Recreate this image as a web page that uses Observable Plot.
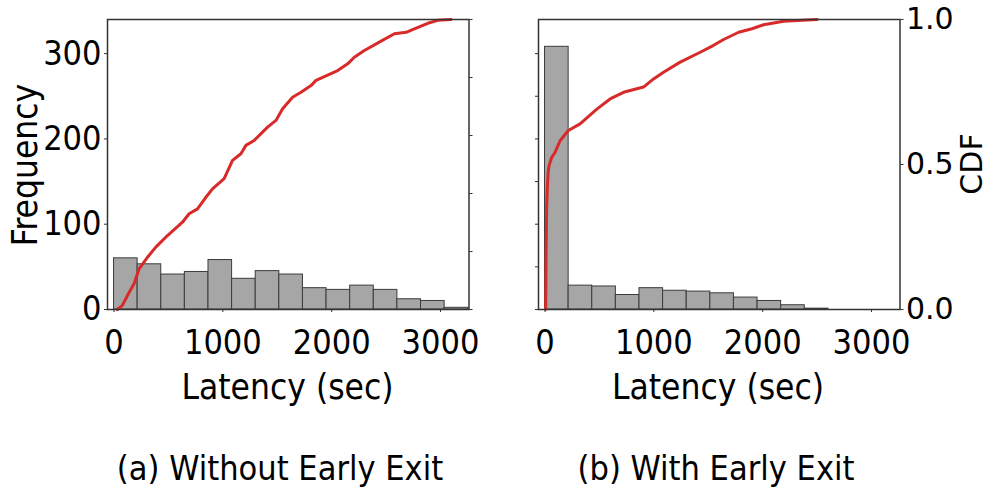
<!DOCTYPE html>
<html><head><meta charset="utf-8">
<script src="https://cdn.jsdelivr.net/npm/d3@7"></script>
<script src="https://cdn.jsdelivr.net/npm/@observablehq/plot@0.6"></script>
<style>
body{margin:0;background:#fff;}
#wrap{position:relative;width:997px;height:496px;overflow:hidden;background:#fff;}
.abs{position:absolute;top:0;}
.lbl{position:absolute;white-space:nowrap;color:#000;line-height:1;font-family:"DejaVu Sans Condensed","DejaVu Sans",sans-serif;font-stretch:condensed;font-size:35px;}
</style></head><body><div id="wrap"></div>
<script>
// ---- data ----
const binStarts = [0,217,434,651,868,1085,1302,1519,1736,1953,2170,2387,2604,2821,3038];
const binEnds   = [217,434,651,868,1085,1302,1519,1736,1953,2170,2387,2604,2821,3038,3255];
const freqWithout = [60,53,41,44,58,36,45,41,25,23,28,23,12,10,2];
const freqWith    = [308,28,27,17,25,22,21,19,14,10,5,1,0,0,0];

const cdfWithoutLatency = [31,77,123,184,230,307,384,491,629,690,767,844,905,1012,1089,1166,1212,1288,1411,1488,1549,1641,1718,1810,1856,2055,2147,2208,2300,2438,2576,2684,2760,2883,2975,3098];
const cdfWithoutValue   = [0,0.014,0.048,0.089,0.140,0.180,0.215,0.255,0.301,0.330,0.347,0.387,0.416,0.451,0.514,0.537,0.566,0.583,0.629,0.652,0.692,0.732,0.749,0.772,0.790,0.824,0.847,0.870,0.893,0.922,0.951,0.956,0.968,0.987,0.997,1.0];

const cdfWithLatency = [6,10,15,21,30,40,62,92,138,214,322,476,598,721,905,997,1089,1242,1426,1549,1641,1779,1902,2009,2193,2500];
const cdfWithValue   = [0,0.20,0.352,0.42,0.479,0.50,0.525,0.542,0.582,0.617,0.640,0.691,0.726,0.749,0.767,0.795,0.818,0.853,0.887,0.911,0.931,0.956,0.968,0.982,0.994,1.0];

const xTicks = [0,1000,2000,3000];
const freqTicksLeft = [0,100,200,300];
const freqTicksRight = [0,50,100,150,200,250,300];
const cdfTicksLeft = [0,0.2,0.4,0.6,0.8,1.0];
const cdfTicksRight = [0,0.5,1.0];
const captions = ["(a) Without Early Exit","(b) With Early Exit"];

// ---- layout ----
const X_DOMAIN = [-60, 3262];
const Y_MAX = 340;
const H = 369, MT = 19, MB = 60;
const condensed = "'DejaVu Sans Condensed','DejaVu Sans',sans-serif";
const wrap = document.getElementById("wrap");

function panel({svgLeft, mL, mR, freq, cLat, cVal, fTicks, fLabels, cTicks, cLabels}) {
  const W = mL + 361.5 + mR;
  const bins = binStarts.map((s,i)=>({x1:s, x2:binEnds[i], f:freq[i]}));
  const cdf = cLat.map((l,i)=>({x:l, y:cVal[i]}));
  const hist = Plot.plot({
    width: W, height: H, marginLeft: mL, marginRight: mR, marginTop: MT, marginBottom: MB,
    x: {domain: X_DOMAIN},
    y: {domain: [0, Y_MAX]},
    style: {fontFamily: condensed, fontStretch: "condensed", fontSize: "34px", background: "transparent", color: "#000", overflow: "visible"},
    marks: [
      Plot.rectY(bins, {x1: "x1", x2: "x2", y: "f", fill: "#a6a6a6", stroke: "#3c3c3c", strokeWidth: 1}),
      Plot.axisX({ticks: xTicks, tickSize: 3, tickPadding: 17, tickFormat: d => String(d), label: null, stroke: "#333"}),
      Plot.axisY({ticks: fTicks, tickSize: 3, tickPadding: 3, tickFormat: fLabels ? (d => String(d)) : (() => ""), label: null, stroke: "#333"})
    ]
  });
  const line = Plot.plot({
    width: W, height: H, marginLeft: mL, marginRight: mR, marginTop: MT, marginBottom: MB,
    x: {domain: X_DOMAIN, axis: null},
    y: {domain: [0, 1]},
    style: {fontFamily: "'DejaVu Sans',sans-serif", fontSize: "30px", background: "transparent", color: "#000", overflow: "visible"},
    marks: [
      Plot.line(cdf, {x: "x", y: "y", stroke: "#d92a2a", strokeWidth: 3}),
      Plot.axisY({anchor: "right", ticks: cTicks, tickSize: 3, tickPadding: 3, tickFormat: cLabels ? (d => d.toFixed(1)) : (() => ""), label: null, stroke: "#333"}),
      Plot.frame({stroke: "#333", strokeWidth: 1.5})
    ]
  });
  for (const el of [hist, line]) {
    el.classList.add("abs");
    el.style.left = svgLeft + "px";
    wrap.appendChild(el);
  }
}

panel({svgLeft: 0, mL: 107, mR: 40, freq: freqWithout, cLat: cdfWithoutLatency, cVal: cdfWithoutValue,
       fTicks: freqTicksLeft, fLabels: true, cTicks: cdfTicksLeft, cLabels: false});
panel({svgLeft: 437.5, mL: 100, mR: 98, freq: freqWith, cLat: cdfWithLatency, cVal: cdfWithValue,
       fTicks: freqTicksRight, fLabels: false, cTicks: cdfTicksRight, cLabels: true});

function label(text, cx, cy, rot, extra) {
  const d = document.createElement("div");
  d.className = "lbl";
  d.textContent = text;
  d.style.left = cx + "px";
  d.style.top = cy + "px";
  d.style.transform = `translate(-50%,-50%)` + (rot ? ` rotate(${rot}deg)` : "");
  if (extra) Object.assign(d.style, extra);
  wrap.appendChild(d);
}
label("Frequency", 25, 165, -90);
label("Latency (sec)", 287.5, 387, 0);
label("Latency (sec)", 718, 387, 0);
label(captions[0], 280, 468, 0, {fontSize: "34px"});
label(captions[1], 716, 468, 0, {fontSize: "34px"});
label("CDF", 972, 164, -90, {fontFamily: "'DejaVu Sans',sans-serif", fontStretch: "normal", fontSize: "30px"});
</script></body></html>
